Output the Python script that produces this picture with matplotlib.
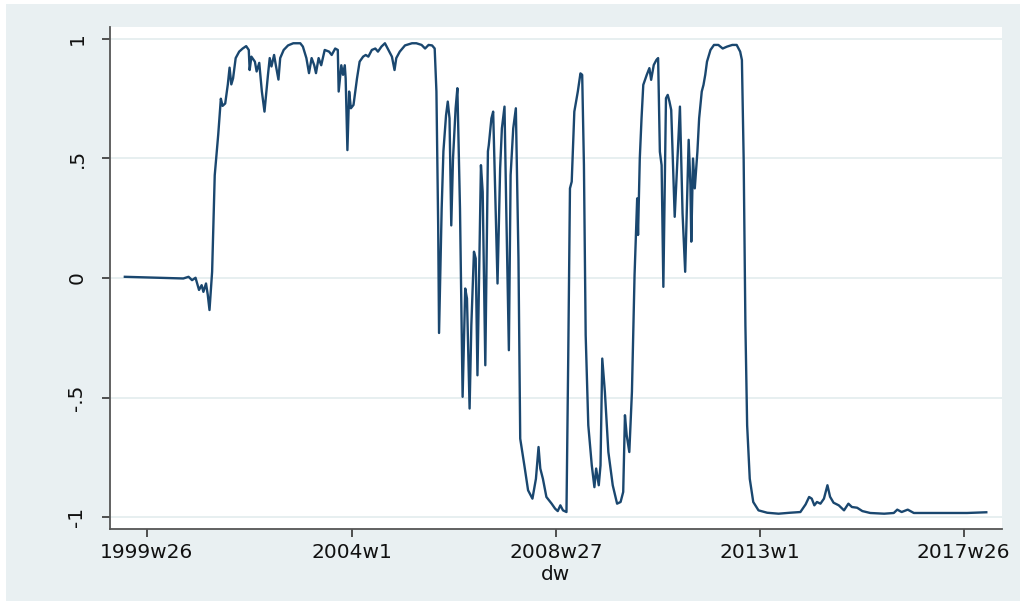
import matplotlib.pyplot as plt
from matplotlib.patches import Rectangle

# Stata weekly dates (weeks since 1960w1) and the plotted series
weeks = [2028, 2095, 2101, 2105, 2109, 2113, 2116, 2118, 2121, 2123, 2125, 2128,
         2131, 2135, 2138, 2140, 2143, 2146, 2148, 2150, 2152, 2155, 2159, 2163,
         2167, 2170, 2171, 2173, 2177, 2179, 2182, 2185, 2188, 2192, 2194, 2196,
         2199, 2201, 2204, 2206, 2210, 2215, 2221, 2229, 2232, 2236, 2239, 2242,
         2245, 2247, 2250, 2253, 2257, 2262, 2265, 2269, 2272, 2273, 2276, 2278,
         2280, 2281, 2283, 2285, 2287, 2290, 2294, 2297, 2301, 2304, 2307, 2311,
         2315, 2318, 2322, 2326, 2331, 2334, 2337, 2339, 2343, 2349, 2357, 2362,
         2368, 2372, 2376, 2380, 2383, 2385, 2387, 2388, 2391, 2393, 2396, 2398,
         2400, 2402, 2404, 2407, 2409, 2412, 2415, 2418, 2420, 2423, 2425, 2428,
         2430, 2432, 2436, 2438, 2441, 2444, 2445, 2448, 2450, 2452, 2455, 2458,
         2460, 2463, 2465, 2468, 2470, 2473, 2476, 2479, 2481, 2486, 2490, 2495,
         2499, 2502, 2504, 2507, 2511, 2517, 2521, 2524, 2527, 2530, 2534, 2536,
         2538, 2540, 2543, 2547, 2550, 2552, 2554, 2556, 2559, 2563, 2566, 2568,
         2571, 2573, 2575, 2578, 2582, 2587, 2592, 2596, 2599, 2601, 2603, 2606,
         2609, 2612, 2615, 2616, 2618, 2620, 2622, 2626, 2629, 2631, 2634, 2637,
         2639, 2641, 2643, 2645, 2648, 2650, 2652, 2654, 2658, 2662, 2664, 2667,
         2670, 2674, 2676, 2677, 2679, 2681, 2684, 2686, 2689, 2691, 2693, 2695,
         2699, 2703, 2708, 2713, 2718, 2724, 2729, 2733, 2735, 2737, 2739, 2741,
         2744, 2748, 2754, 2764, 2777, 2790, 2802, 2808, 2812, 2815, 2818, 2821,
         2825, 2829, 2833, 2836, 2840, 2846, 2852, 2857, 2861, 2867, 2873, 2882,
         2898, 2909, 2913, 2918, 2925, 2932, 2955, 2993, 3015]
values = [0.005, -0.002, 0.005, -0.009, 0.001, -0.05, -0.03, -0.058, -0.023, -0.07, -0.134, 0.026,
          0.43, 0.60, 0.75, 0.72, 0.73, 0.81, 0.88, 0.81, 0.835, 0.92, 0.947, 0.96,
          0.97, 0.954, 0.87, 0.926, 0.905, 0.864, 0.90, 0.78, 0.696, 0.85, 0.92, 0.885,
          0.933, 0.89, 0.83, 0.92, 0.954, 0.973, 0.982, 0.982, 0.968, 0.92, 0.857, 0.92,
          0.89, 0.857, 0.92, 0.89, 0.954, 0.947, 0.933, 0.96, 0.954, 0.78, 0.89, 0.85,
          0.89, 0.835, 0.535, 0.78, 0.71, 0.724, 0.835, 0.905, 0.926, 0.933, 0.926, 0.954,
          0.96, 0.947, 0.968, 0.982, 0.947, 0.926, 0.87, 0.92, 0.947, 0.973, 0.982, 0.982,
          0.975, 0.96, 0.975, 0.973, 0.96, 0.78, 0.22, -0.23, 0.29, 0.53, 0.68, 0.738,
          0.668, 0.22, 0.50, 0.71, 0.794, 0.29, -0.497, -0.044, -0.086, -0.546, -0.197, 0.11,
          0.082, -0.407, 0.472, 0.36, -0.365, 0.53, 0.556, 0.668, 0.696, 0.403, -0.023, 0.459,
          0.626, 0.717, 0.29, -0.302, 0.43, 0.626, 0.71, 0.082, -0.672, -0.79, -0.888, -0.923,
          -0.84, -0.707, -0.797, -0.84, -0.916, -0.944, -0.965, -0.975, -0.951, -0.972, -0.979, -0.337,
          0.375, 0.403, 0.696, 0.78, 0.856, 0.85, 0.472, -0.239, -0.616, -0.784, -0.875, -0.797,
          -0.867, -0.784, -0.337, -0.476, -0.728, -0.867, -0.944, -0.937, -0.895, -0.574, -0.658, -0.728,
          -0.476, 0.012, 0.333, 0.18, 0.50, 0.668, 0.808, 0.85, 0.878, 0.829, 0.891, 0.912,
          0.92, 0.528, 0.472, -0.037, 0.752, 0.766, 0.738, 0.703, 0.256, 0.57, 0.717, 0.27,
          0.026, 0.578, 0.389, 0.152, 0.50, 0.375, 0.528, 0.668, 0.78, 0.808, 0.85, 0.905,
          0.954, 0.975, 0.975, 0.96, 0.968, 0.975, 0.975, 0.947, 0.912, 0.50, -0.197, -0.616,
          -0.84, -0.937, -0.972, -0.982, -0.986, -0.982, -0.979, -0.947, -0.916, -0.923, -0.951, -0.937,
          -0.944, -0.923, -0.867, -0.915, -0.94, -0.951, -0.972, -0.944, -0.958, -0.961, -0.975, -0.983,
          -0.986, -0.983, -0.969, -0.979, -0.969, -0.983, -0.983, -0.983, -0.98]

tick_weeks = [2053, 2288, 2522, 2756, 2989]
tick_labels = ["1999w26", "2004w1", "2008w27", "2013w1", "2017w26"]
y_ticks = [-1, -0.5, 0, 0.5, 1]
y_labels = ["-1", "-.5", "0", ".5", "1"]

bg = "#e9f0f2"
navy = "#1a476f"

plt.rcParams["font.family"] = "DejaVu Sans"
fig = plt.figure(figsize=(10.23, 6.08), dpi=100)
fig.patch.set_facecolor("white")
# light Stata graph region inside a thin white border
region = Rectangle((6 / 1023, 7 / 608), 1014 / 1023, 597 / 608,
                   transform=fig.transFigure, facecolor=bg,
                   edgecolor="none", zorder=-10)
fig.add_artist(region)

ax = fig.add_axes([110 / 1023, 79 / 608, 892 / 1023, 502 / 608])
ax.set_zorder(1)
ax.set_facecolor("white")
ax.plot(weeks, values, color=navy, lw=1.7, zorder=3, solid_joinstyle="round")

ax.set_xlim(2011, 3033)
ax.set_ylim(-1.05, 1.05)
ax.set_xticks(tick_weeks)
ax.set_xticklabels(tick_labels)
ax.set_yticks(y_ticks)
ax.set_yticklabels(y_labels, rotation=90, va="center")
ax.grid(axis="y", color="#e3eced", lw=1.2)
ax.set_axisbelow(True)

for s in ["top", "right"]:
    ax.spines[s].set_visible(False)
for s in ["left", "bottom"]:
    ax.spines[s].set_color("#555555")
    ax.spines[s].set_linewidth(1.3)

ax.tick_params(axis="both", direction="out", length=6, width=1.2,
               color="#333333", labelsize=14.5, labelcolor="#111111")
ax.tick_params(axis="y", pad=11)
ax.tick_params(axis="x", pad=4)
ax.set_xlabel("dw", fontsize=14.5, color="#111111", labelpad=2)

plt.savefig("out.png", dpi=100, facecolor=fig.get_facecolor())
